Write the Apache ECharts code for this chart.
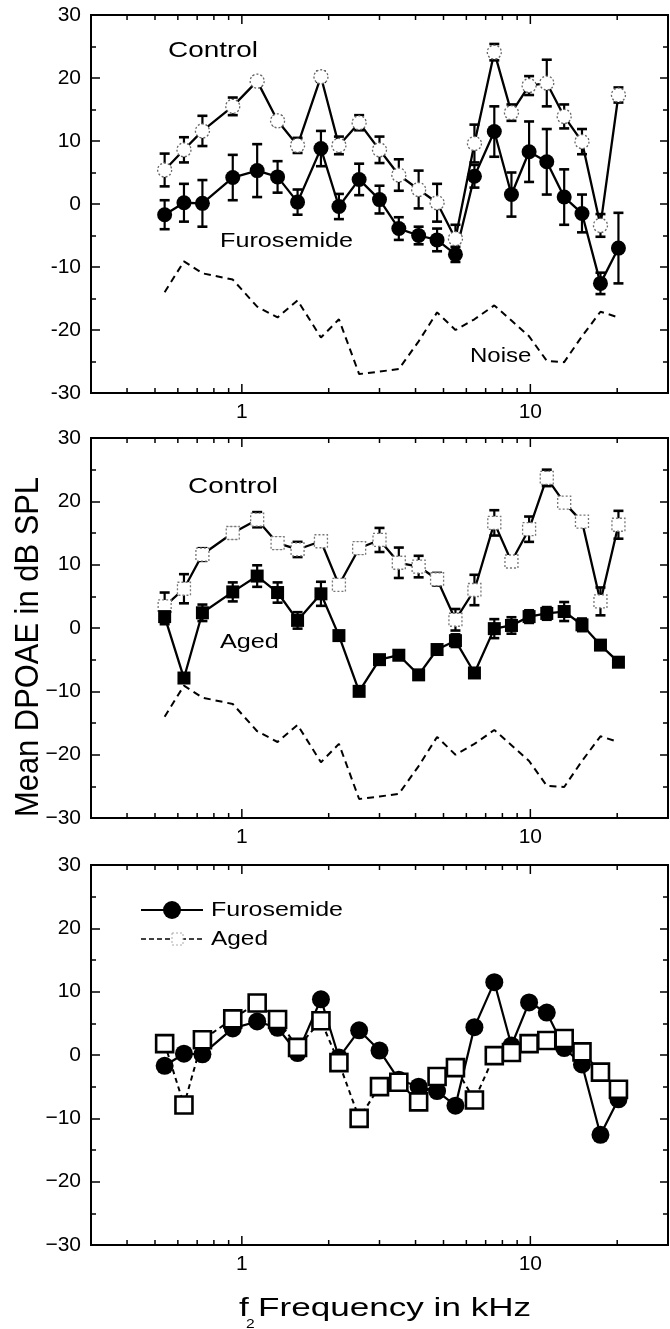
<!DOCTYPE html>
<html><head><meta charset="utf-8">
<script src="https://cdn.jsdelivr.net/npm/echarts@6/dist/echarts.min.js"></script>
<style>html,body{margin:0;padding:0;background:#fff}#c{width:670px;height:1329px}</style>
</head><body><div id="c"></div>
<script>
// ---- data ----
const freqKHz = [0.54, 0.63, 0.73, 0.93, 1.13, 1.33, 1.56, 1.88, 2.17, 2.55, 3.0, 3.5, 4.1, 4.75, 5.5, 6.4, 7.5, 8.6, 9.9, 11.4, 13.1, 15.1, 17.5, 20.2];
const p1ControlMean = [5.4, 8.6, 11.6, 15.5, 19.5, 13.2, 9.3, 20.2, 9.3, 12.9, 8.6, 4.6, 2.3, 0.2, -5.5, 9.6, 24.1, 14.5, 18.8, 19.2, 13.9, 9.9, -3.4, 17.3];
const p1ControlErr  = [2.6, 2.0, 2.4, 1.4, 0.7, 0.7, 1.2, 0.8, 1.4, 1.2, 2.1, 2.5, 3.0, 3.0, 2.2, 3.0, 1.3, 1.3, 1.5, 3.7, 1.9, 2.0, 1.8, 1.2];
const furosemideMean = [-1.7, 0.2, 0.1, 4.2, 5.3, 4.3, 0.3, 8.8, -0.4, 3.9, 0.7, -3.9, -5.0, -5.7, -8.0, 4.4, 11.5, 1.5, 8.3, 6.7, 1.1, -1.5, -12.6, -7.0];
const furosemideErr  = [2.3, 3.0, 3.7, 3.6, 4.2, 2.5, 2.0, 2.8, 2.0, 2.5, 2.2, 1.8, 1.4, 1.8, 1.2, 1.8, 4.0, 3.5, 4.8, 5.2, 4.4, 3.0, 1.7, 5.6];
const p2ControlMean = [3.4, 6.2, 11.6, 15.0, 17.1, 13.4, 12.4, 13.7, 6.8, 12.6, 13.9, 10.3, 9.7, 7.7, 1.3, 6.0, 16.6, 10.5, 15.6, 23.7, 19.8, 16.8, 4.2, 16.3];
const p2ControlErr  = [2.2, 2.3, 1.0, 0.8, 1.2, 0.8, 1.2, 0.6, 0.5, 0.8, 1.9, 2.4, 1.7, 1.0, 1.7, 2.4, 2.0, 0.6, 2.0, 1.3, 0.5, 0.5, 2.2, 2.2];
const agedMean = [1.8, -7.9, 2.4, 5.7, 8.2, 5.6, 1.2, 5.4, -1.2, -10.0, -5.0, -4.3, -7.4, -3.4, -2.0, -7.1, -0.1, 0.4, 1.8, 2.3, 2.6, 0.5, -2.7, -5.4];
const agedErr  = [1.2, 0.5, 1.3, 1.5, 1.7, 1.6, 1.3, 1.9, 0.6, 0.6, 0.5, 0.5, 0.5, 0.5, 1.0, 0.5, 1.5, 1.3, 1.0, 1.0, 1.5, 1.0, 0.5, 0.5];
const noiseFloor = [-14.0, -9.1, -11.0, -12.0, -16.3, -18.0, -15.3, -21.2, -18.3, -27.0, -26.6, -26.2, -21.8, -17.2, -20.0, -18.3, -16.1, -18.5, -21.0, -24.9, -25.1, -21.0, -17.1, -18.0];
const xLabelValues = [1, 10];
const xMajorTicks = [1, 10];
const xMinorTicks = [0.4, 0.5, 0.6, 0.7, 0.8, 0.9, 2, 3, 4, 5, 6, 7, 8, 9, 20];
const yTickLabels = [-30, -20, -10, 0, 10, 20, 30];

// ---- helpers ----
const FONT = '"Liberation Sans", Arial, Helvetica, sans-serif';
const pairs = (m) => freqKHz.map((f, i) => [f, m[i]]);
const triples = (m, e) => freqKHz.map((f, i) => [f, m[i], e[i]]);

function errRender(params, api) {
  const x = api.value(0), y = api.value(1), e = api.value(2);
  const t = api.coord([x, y + e]), b = api.coord([x, y - e]);
  const cw = 5;
  const st = { stroke: '#000', lineWidth: 2.2 };
  const cst = { stroke: '#000', lineWidth: 2.6 };
  return { type: 'group', children: [
    { type: 'line', shape: { x1: t[0], y1: t[1], x2: b[0], y2: b[1] }, style: st },
    { type: 'line', shape: { x1: t[0] - cw, y1: t[1], x2: t[0] + cw, y2: t[1] }, style: cst },
    { type: 'line', shape: { x1: b[0] - cw, y1: b[1], x2: b[0] + cw, y2: b[1] }, style: cst }
  ]};
}
function tickRender(len) {
  return function (params, api) {
    const px = api.coord([api.value(0), 0])[0];
    const cs = params.coordSys;
    const yb = cs.y + cs.height, yt = cs.y;
    const st = { stroke: '#000', lineWidth: 1.5 };
    return { type: 'group', children: [
      { type: 'line', shape: { x1: px, y1: yb, x2: px, y2: yb - len }, style: st },
      { type: 'line', shape: { x1: px, y1: yt, x2: px, y2: yt + len }, style: st }
    ]};
  };
}
function errSeries(g, m, e) {
  return { type: 'custom', xAxisIndex: g, yAxisIndex: g, renderItem: errRender,
    data: triples(m, e), encode: { x: 0, y: 1 }, silent: true, z: 2 };
}
function tickSeries(g, vals, len) {
  return { type: 'custom', xAxisIndex: g, yAxisIndex: g, renderItem: tickRender(len),
    data: vals.map(v => [v, 0]), encode: { x: 0, y: 1 }, silent: true, z: 5 };
}
function lineSeries(g, name, m, o) {
  return Object.assign({ type: 'line', name, xAxisIndex: g, yAxisIndex: g, data: pairs(m),
    showSymbol: true, z: 3, emphasis: { disabled: true }, silent: true }, o);
}

const gridsPos = [
  { left: 91, top: 15, width: 577, height: 378 },
  { left: 91, top: 438, width: 577, height: 380 },
  { left: 91, top: 865, width: 577, height: 380 }
];
const minus = (v, uni) => (v < 0 ? (uni ? '\u2212' : '-') + Math.abs(v) : String(v));

const grid = gridsPos.map(p => Object.assign({ show: true, borderColor: '#000', borderWidth: 2,
  backgroundColor: 'transparent', containLabel: false, outerBoundsMode: 'none' }, p));

const xAxis = [0, 1, 2].map(g => ({
  type: 'log', logBase: 10, min: 0.3, max: 30, gridIndex: g,
  axisLine: { show: false }, axisTick: { show: false }, splitLine: { show: false },
  axisLabel: { color: '#000', fontSize: 21, fontFamily: FONT, margin: 9,
    formatter: v => { const hit = xLabelValues.find(t => Math.abs(v - t) < 1e-6); return hit ? String(hit) : ''; } }
}));

const yAxis = [];
[0, 1, 2].forEach(g => {
  yAxis.push({ type: 'value', gridIndex: g, position: 'left', min: -30, max: 30, interval: 10,
    axisLine: { show: false }, splitLine: { show: false },
    axisTick: { show: true, inside: true, length: 9, lineStyle: { color: '#000', width: 1.5 } },
    minorTick: { show: true, splitNumber: 2, length: 5, lineStyle: { color: '#000', width: 1.5 } },
    axisLabel: { color: '#000', fontSize: 21, fontFamily: FONT, margin: 10,
      formatter: v => yTickLabels.indexOf(v) >= 0 ? minus(v, g > 0) : '' } });
});
[0, 1, 2].forEach(g => {
  yAxis.push({ type: 'value', gridIndex: g, position: 'right', min: -30, max: 30, interval: 10,
    axisLine: { show: false }, splitLine: { show: false },
    axisTick: { show: true, inside: true, length: 8, lineStyle: { color: '#000', width: 1.5 } },
    minorTick: { show: true, splitNumber: 2, length: 5, lineStyle: { color: '#000', width: 1.5 } },
    axisLabel: { show: false } });
});

const noiseStyle = { symbol: 'none', z: 2, lineStyle: { color: '#000', width: 2, type: [7, 5] } };

const series = [
  // panel 1
  lineSeries(0, 'Noise', noiseFloor, noiseStyle),
  errSeries(0, p1ControlMean, p1ControlErr),
  errSeries(0, furosemideMean, furosemideErr),
  lineSeries(0, 'Control', p1ControlMean, { symbol: 'circle', symbolSize: 14,
    itemStyle: { color: '#fff', borderColor: '#666', borderWidth: 1.3, borderType: [2, 2] },
    lineStyle: { color: '#000', width: 2.3 } }),
  lineSeries(0, 'Furosemide', furosemideMean, { symbol: 'circle', symbolSize: 15,
    itemStyle: { color: '#000' }, lineStyle: { color: '#000', width: 2.3 } }),
  // panel 2
  lineSeries(1, 'Noise', noiseFloor, Object.assign({}, noiseStyle, { xAxisIndex: 1, yAxisIndex: 1 })),
  errSeries(1, p2ControlMean, p2ControlErr),
  errSeries(1, agedMean, agedErr),
  lineSeries(1, 'Control', p2ControlMean, { symbol: 'rect', symbolSize: 13,
    itemStyle: { color: '#fff', borderColor: '#777', borderWidth: 1.3, borderType: [2, 2] },
    lineStyle: { color: '#000', width: 2.3 } }),
  lineSeries(1, 'Aged', agedMean, { symbol: 'rect', symbolSize: 13,
    itemStyle: { color: '#000' }, lineStyle: { color: '#000', width: 2.3 } }),
  // panel 3
  lineSeries(2, 'Furosemide', furosemideMean, { symbol: 'circle', symbolSize: 18,
    itemStyle: { color: '#000' }, lineStyle: { color: '#000', width: 2.2 } }),
  lineSeries(2, 'Aged', agedMean, { symbol: 'rect', symbolSize: 17, z: 4,
    itemStyle: { color: '#fff', borderColor: '#000', borderWidth: 2.6 },
    lineStyle: { color: '#000', width: 2, type: [5, 4] } })
];
[0, 1, 2].forEach(g => {
  series.push(tickSeries(g, xMinorTicks, 5));
  series.push(tickSeries(g, xMajorTicks, 9));
});

const txt = (x, y, text, size, sx, extra) => Object.assign({ type: 'text', x, y, scaleX: sx || 1, silent: true,
  style: { text, fontSize: size, fontFamily: FONT, fill: '#000', align: 'left', verticalAlign: 'middle' } }, extra || {});

const graphic = [
  txt(168, 51, 'Control', 22, 1.27),
  txt(220, 241, 'Furosemide', 21, 1.2),
  txt(470, 356, 'Noise', 20, 1.2),
  txt(188, 487, 'Control', 22, 1.27),
  txt(220, 642, 'Aged', 21, 1.2),
  // legend (panel 3)
  { type: 'line', silent: true, shape: { x1: 141, y1: 910, x2: 203, y2: 910 }, style: { stroke: '#000', lineWidth: 2.2 } },
  { type: 'circle', silent: true, shape: { cx: 172, cy: 910, r: 9 }, style: { fill: '#000' } },
  txt(211, 910, 'Furosemide', 20, 1.25),
  { type: 'line', silent: true, shape: { x1: 141, y1: 939, x2: 203, y2: 939 }, style: { stroke: '#000', lineWidth: 1.6, lineDash: [5, 3] } },
  { type: 'rect', silent: true, shape: { x: 172, y: 933, width: 11, height: 12 }, style: { fill: '#fff', stroke: '#aaa', lineWidth: 1, lineDash: [2, 2] } },
  txt(211, 939, 'Aged', 20, 1.22),
  // axis titles
  txt(239, 1309, 'f', 26, 1.35),
  txt(246, 1324, '2', 13, 1.2),
  txt(258, 1309, 'Frequency in kHz', 26, 1.35),
  { type: 'text', x: 29, y: 647, rotation: Math.PI / 2, scaleX: 1.03, scaleY: 1.12, silent: true,
    style: { text: 'Mean DPOAE in dB SPL', fontSize: 30, fontFamily: FONT, fill: '#000', align: 'center', verticalAlign: 'middle' } }
];

const chart = echarts.init(document.getElementById('c'), null, { renderer: 'canvas' });
chart.setOption({ animation: false, backgroundColor: '#fff', grid, xAxis, yAxis, series, graphic, tooltip: { show: false } });
</script></body></html>
